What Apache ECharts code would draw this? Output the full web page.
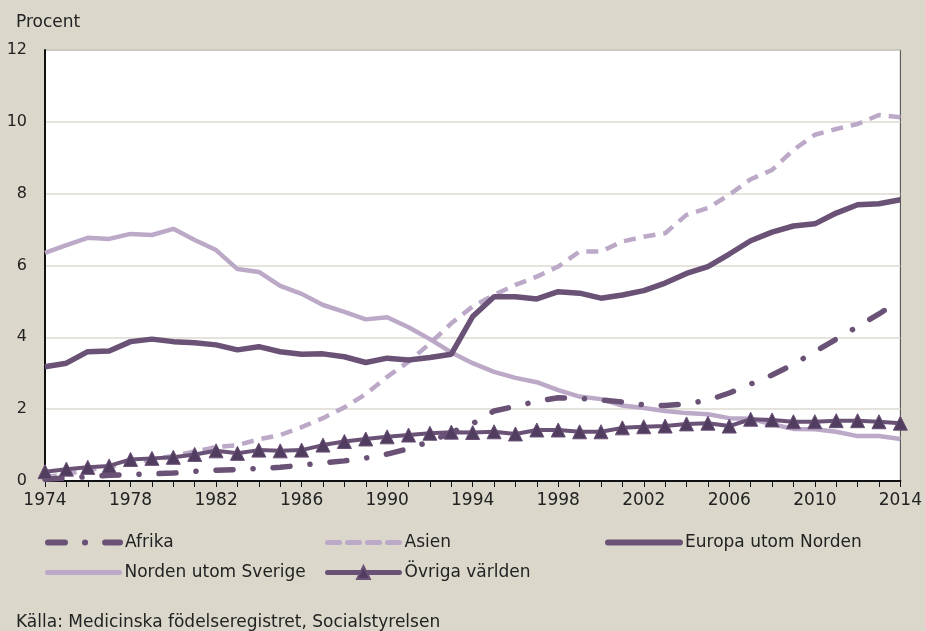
<!DOCTYPE html>
<html>
<head>
<meta charset="utf-8">
<script src="https://cdn.jsdelivr.net/npm/echarts@6/dist/echarts.min.js"></script>
<style>
  html, body { margin: 0; padding: 0; background: #dbd8cb; }
  #chart { width: 925px; height: 631px; }
</style>
</head>
<body>
<div id="chart"></div>
<script>
// år 1974-2014
const years = [];
for (let y = 1974; y <= 2014; y++) years.push(String(y));

const afrika = [0.05, 0.08, 0.12, 0.16, 0.18, 0.2, 0.22, 0.27, 0.3, 0.32,
  0.35, 0.38, 0.44, 0.5, 0.56, 0.64, 0.75, 0.9, 1.1, 1.35,
  1.6, 1.95, 2.08, 2.22, 2.32, 2.3, 2.26, 2.2, 2.12, 2.1,
  2.15, 2.25, 2.45, 2.7, 2.95, 3.25, 3.6, 3.95, 4.3, 4.65, 5.04];

const asien = [0.1, 0.2, 0.3, 0.4, 0.5, 0.6, 0.7, 0.82, 0.94, 1.0,
  1.16, 1.28, 1.5, 1.75, 2.05, 2.42, 2.9, 3.32, 3.83, 4.39,
  4.86, 5.18, 5.46, 5.69, 5.97, 6.39, 6.39, 6.67, 6.8, 6.9,
  7.41, 7.6, 7.97, 8.4, 8.66, 9.22, 9.64, 9.8, 9.94, 10.19, 10.13];

const europa = [3.18, 3.28, 3.6, 3.62, 3.88, 3.95, 3.88, 3.85, 3.79, 3.65,
  3.74, 3.6, 3.53, 3.54, 3.46, 3.3, 3.42, 3.37, 3.44, 3.53,
  4.58, 5.13, 5.13, 5.07, 5.27, 5.23, 5.09, 5.18, 5.3, 5.51,
  5.78, 5.97, 6.32, 6.69, 6.93, 7.1, 7.16, 7.46, 7.69, 7.72, 7.83];

const norden = [6.35, 6.57, 6.77, 6.74, 6.88, 6.85, 7.02, 6.71, 6.43, 5.9,
  5.82, 5.43, 5.21, 4.9, 4.71, 4.5, 4.56, 4.28, 3.95, 3.58,
  3.28, 3.04, 2.87, 2.75, 2.53, 2.35, 2.28, 2.1, 2.03, 1.95,
  1.89, 1.86, 1.75, 1.73, 1.58, 1.45, 1.44, 1.37, 1.25, 1.25, 1.17];

const ovriga = [0.26, 0.33, 0.38, 0.42, 0.6, 0.63, 0.66, 0.74, 0.84, 0.77,
  0.86, 0.84, 0.86, 1.0, 1.1, 1.17, 1.23, 1.28, 1.33, 1.36,
  1.35, 1.37, 1.31, 1.42, 1.42, 1.37, 1.37, 1.48, 1.51, 1.53,
  1.59, 1.61, 1.53, 1.72, 1.7, 1.65, 1.65, 1.68, 1.68, 1.65, 1.61];

const dark = '#6a5276';
const light = '#bba9c7';
const font = 'DejaVu Sans';

const chart = echarts.init(document.getElementById('chart'));

// en legend per serie så att de kan placeras fritt
function legend(name, left, top, width, showSymbol) {
  return {
    data: [name], left: left, top: top,
    itemWidth: 72, itemHeight: 16, itemGap: 0,
    textStyle: { fontFamily: font, fontSize: 17, color: '#222' },
    lineStyle: { width: width, cap: 'round' },
    itemStyle: showSymbol ? {} : { opacity: 0 },
    padding: 0
  };
}

chart.setOption({
  backgroundColor: '#dbd8cb',
  animation: false,
  textStyle: { fontFamily: font },
  title: [
    { text: 'Procent', left: 11, top: 9, textStyle: { fontFamily: font, fontSize: 17, fontWeight: 'normal', color: '#222' } },
    { text: 'Källa: Medicinska födelseregistret, Socialstyrelsen', left: 11, top: 609,
      textStyle: { fontFamily: font, fontSize: 17, fontWeight: 'normal', color: '#222' } }
  ],
  legend: [
    legend('Afrika', 45, 534, 6, false),
    legend('Asien', 325, 534, 5, false),
    legend('Europa utom Norden', 605, 534, 6, false),
    legend('Norden utom Sverige', 45, 564, 5, false),
    legend('Övriga världen', 325, 564, 5, true)
  ],
  grid: {
    left: 45, right: 20, top: 50, bottom: 150,
    show: true, backgroundColor: '#fff', borderColor: '#444', borderWidth: 1
  },
  xAxis: {
    type: 'category', data: years, boundaryGap: false,
    axisLine: { lineStyle: { color: '#111', width: 2 } },
    axisTick: { show: true, interval: 0, length: 6, lineStyle: { color: '#111', width: 1 } },
    axisLabel: { interval: 3, margin: 11, fontSize: 17, color: '#222', fontFamily: font },
    splitLine: { show: false }
  },
  yAxis: {
    type: 'value', min: 0, max: 12, interval: 2,
    axisLine: { show: true, lineStyle: { color: '#111', width: 2 } },
    axisTick: { show: false },
    axisLabel: { margin: 18, fontSize: 16, color: '#222', fontFamily: font },
    splitLine: { lineStyle: { color: '#dddad0', width: 1.5 } }
  },
  series: [
    { name: 'Afrika', type: 'line', data: afrika, symbol: 'none', z: 3,
      lineStyle: { color: dark, width: 5.5, type: [17, 20, 0.1, 20], cap: 'round' },
      itemStyle: { color: dark } },
    { name: 'Asien', type: 'line', data: asien, symbol: 'none', z: 2,
      lineStyle: { color: light, width: 4.5, type: [12, 8] },
      itemStyle: { color: light } },
    { name: 'Europa utom Norden', type: 'line', data: europa, symbol: 'none', z: 4,
      lineStyle: { color: dark, width: 5.5 },
      itemStyle: { color: dark } },
    { name: 'Norden utom Sverige', type: 'line', data: norden, symbol: 'none', z: 1,
      lineStyle: { color: light, width: 4.5 },
      itemStyle: { color: light } },
    { name: 'Övriga världen', type: 'line', data: ovriga, symbol: 'triangle', symbolSize: 14,
      showAllSymbol: true, z: 5,
      lineStyle: { color: dark, width: 4 },
      itemStyle: { color: '#513d60', borderColor: dark, borderWidth: 1 } }
  ]
});
</script>
</body>
</html>
